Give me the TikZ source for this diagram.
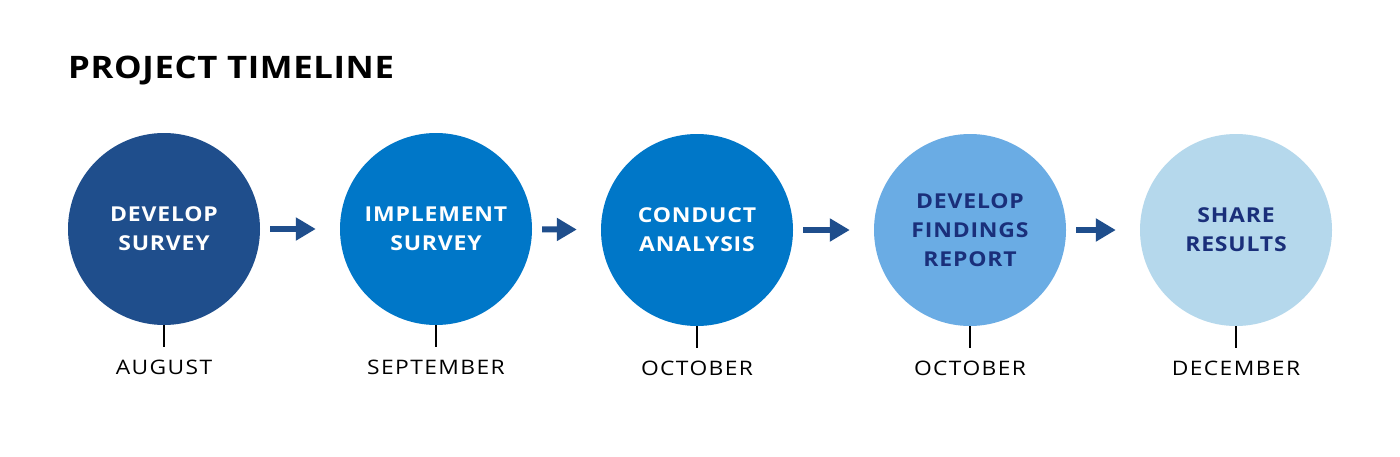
\documentclass[tikz,border=0pt]{standalone}
\usepackage{fontspec}
\setmainfont{Open Sans}
\newfontfamily\titlefont[FakeStretch=1.12,LetterSpace=2]{Open Sans}
\newfontfamily\stagefont[FakeStretch=1.12,LetterSpace=4]{Open Sans}
\newfontfamily\monthfont[FakeStretch=1.14,LetterSpace=7]{Open Sans}
\usetikzlibrary{arrows.meta,calc}
\definecolor{cnavy}{HTML}{1F4E8C}
\definecolor{cblue}{HTML}{0077C8}
\definecolor{clight}{HTML}{6AACE4}
\definecolor{cpale}{HTML}{B5D8EC}
\definecolor{ctext}{HTML}{1A2F7A}
\begin{document}
\begin{tikzpicture}[x=1pt,y=-1pt,
  stage/.style={circle,minimum size=192pt,inner sep=0pt,align=center,
    font=\stagefont\fontsize{20.5}{29}\selectfont\bfseries,
    execute at begin node={\rule{0pt}{23pt}}},
  month/.style={font=\monthfont\fontsize{20}{25}\selectfont,text=black,inner sep=0pt,anchor=base},
  flow/.style={draw=cnavy,line width=6pt,-{Triangle[length=20pt,width=22pt]},
    shorten <=10pt,shorten >=24pt},
  tick/.style={draw=black,line width=1.5pt}]
\useasboundingbox[fill=white] (0,0) rectangle (1400,456);
\node[anchor=base west,font=\titlefont\fontsize{31}{36}\selectfont\bfseries,inner sep=0pt] (title) at (68,78) {PROJECT TIMELINE};
\node[stage,fill=cnavy,text=white] (c1) at (164,229) {DEVELOP\\SURVEY};
\node[stage,fill=cblue,text=white] (c2) at (436,229) {IMPLEMENT\\SURVEY};
\node[stage,fill=cblue,text=white] (c3) at (697,230) {CONDUCT\\ANALYSIS};
\node[stage,fill=clight,text=ctext] (c4) at (970,230) {DEVELOP\\FINDINGS\\REPORT};
\node[stage,fill=cpale,text=ctext] (c5) at (1236,230) {SHARE\\RESULTS};
\foreach \a/\b in {c1/c2,c2/c3,c3/c4,c4/c5} \draw[flow] (\a) -- (\b);
\foreach \c/\m/\t in {c1/m1/AUGUST,c2/m2/SEPTEMBER,c3/m3/OCTOBER,c4/m4/OCTOBER,c5/m5/DECEMBER}{
  \coordinate (\c t) at ($(\c.south)+(0,22)$);
  \draw[tick] (\c.south) -- (\c t);
  \node[month] (\m) at ($(\c t)+(0,27)$) {\t};
}
\end{tikzpicture}
\end{document}
